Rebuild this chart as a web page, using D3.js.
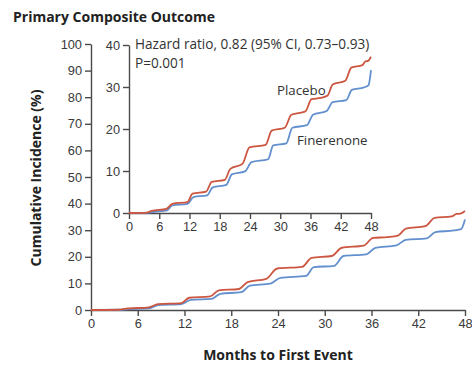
<!DOCTYPE html>
<html>
<head>
<meta charset="utf-8">
<script src="https://cdn.jsdelivr.net/npm/d3@7"></script>
<style>
  body { margin: 0; background: #fff; }
  svg { display: block; font-family: "Open Sans", sans-serif; }
  .axis path, .axis line { stroke: #4a4a4a; stroke-width: 1.4; }
  .axis text { fill: #3a3a3a; font-size: 12.8px; }
</style>
</head>
<body>
<script>
const width = 472
const height = 366

// step-curve points: [month, cumulative %]
const placebo = [
  [0, 0], [3.5, 0.1], [4.5, 0.5], [7.4, 1.0], [8.6, 2.2], [11.6, 2.6], [12.6, 4.6], [15.3, 5.1],
  [16.4, 7.4], [19, 7.9], [20.1, 10.5], [22.5, 11.7], [23.9, 15.6], [27.1, 16.2], [28.3, 19.6],
  [30.9, 20.3], [32.2, 23.4], [35, 24.2], [36.2, 27.1], [38, 27.4], [39.4, 28.0], [40.4, 30.6],
  [42.9, 31.5], [44.1, 34.6], [46.3, 35.2], [46.9, 36.1], [47.4, 36.2], [48, 37.2]
]
const finerenone = [
  [0, 0], [4, 0.1], [5, 0.3], [7.5, 0.6], [8.6, 1.8], [11.6, 2.2], [12.8, 3.8], [15.5, 4.2],
  [16.6, 6.1], [19.3, 6.7], [20.4, 9.2], [23, 9.9], [24.3, 12.1], [27.6, 12.8], [28.6, 16.1],
  [31.2, 16.6], [32.4, 20.3], [35.3, 20.9], [36.5, 23.4], [39.2, 24.3], [40.4, 26.4], [43.1, 26.9],
  [44.2, 29.3], [46.6, 29.9], [47.5, 30.4], [48, 34.0]
]
const monthTicks = [0, 6, 12, 18, 24, 30, 36, 42, 48]
const mainYTicks = [0, 10, 20, 30, 40, 50, 60, 70, 80, 90, 100]
const insetYTicks = [0, 10, 20, 30, 40]

const colors = {placebo: "#cc5640", finerenone: "#6290cf"}

const svg = d3.select("body").append("svg").attr("width", width).attr("height", height)

// main panel
const x = d3.scaleLinear().domain([0, 48]).range([91, 465])
const y = d3.scaleLinear().domain([0, 100]).range([310, 44])

// inset panel
const xi = d3.scaleLinear().domain([0, 48]).range([129, 371])
const yi = d3.scaleLinear().domain([0, 40]).range([213, 45])

function drawPanel(sx, sy, yTicks) {
  svg.append("g").attr("class", "axis")
    .attr("transform", `translate(0,${sy(0)})`)
    .call(d3.axisBottom(sx).tickValues(monthTicks).tickSize(6).tickPadding(3).tickSizeOuter(0))

  svg.append("g").attr("class", "axis")
    .attr("transform", `translate(${sx(0)},0)`)
    .call(d3.axisLeft(sy).tickValues(yTicks).tickSize(6).tickPadding(3).tickSizeOuter(0))

  const line = d3.line().x((d) => sx(d[0])).y((d) => sy(d[1])).curve(d3.curveMonotoneX)
  svg.append("path").datum(finerenone).attr("d", line)
    .attr("fill", "none").attr("stroke", colors.finerenone).attr("stroke-width", 1.8)
  svg.append("path").datum(placebo).attr("d", line)
    .attr("fill", "none").attr("stroke", colors.placebo).attr("stroke-width", 1.8)
}

drawPanel(x, y, mainYTicks)
drawPanel(xi, yi, insetYTicks)

svg.append("text").attr("x", 13).attr("y", 22)
  .attr("font-size", 14).attr("font-weight", "bold").attr("fill", "#222")
  .text("Primary Composite Outcome")

svg.append("text").attr("x", 135).attr("y", 49)
  .attr("font-size", 13.6).attr("fill", "#333")
  .text("Hazard ratio, 0.82 (95% CI, 0.73\u20130.93)")
svg.append("text").attr("x", 135).attr("y", 68)
  .attr("font-size", 13.6).attr("fill", "#333")
  .text("P=0.001")

svg.append("text").attr("x", 277).attr("y", 95)
  .attr("font-size", 13.3).attr("fill", "#333").text("Placebo")
svg.append("text").attr("x", 297).attr("y", 145)
  .attr("font-size", 13.3).attr("fill", "#333").text("Finerenone")

svg.append("text").attr("x", 278).attr("y", 360).attr("text-anchor", "middle")
  .attr("font-size", 14).attr("font-weight", "bold").attr("fill", "#222")
  .text("Months to First Event")

svg.append("text").attr("transform", "translate(41,178) rotate(-90)").attr("text-anchor", "middle")
  .attr("font-size", 14).attr("font-weight", "bold").attr("fill", "#222")
  .text("Cumulative Incidence (%)")
</script>
</body>
</html>
